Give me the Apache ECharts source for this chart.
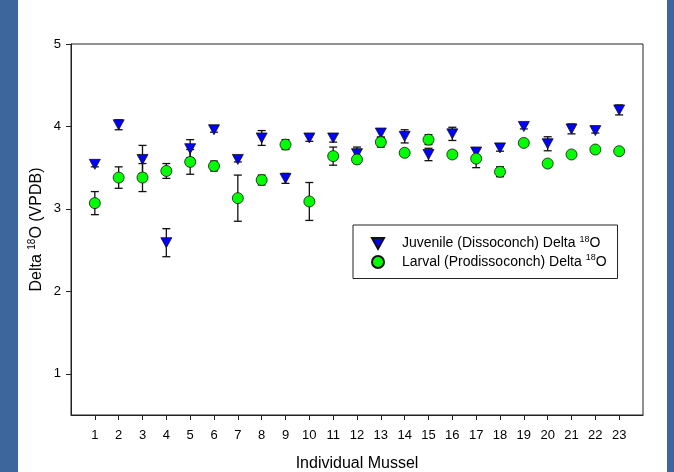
<!DOCTYPE html>
<html>
<head>
<meta charset="utf-8">
<script src="https://cdn.jsdelivr.net/npm/echarts@6/dist/echarts.min.js"></script>
<style>
  html, body { margin: 0; padding: 0; background: #fff; }
  #chart { width: 674px; height: 472px; }
</style>
</head>
<body>
<div id="chart"></div>
<script>
// individual mussels on x
const mussels = [1, 2, 3, 4, 5, 6, 7, 8, 9, 10, 11, 12, 13, 14, 15, 16, 17, 18, 19, 20, 21, 22, 23];
// juvenile (dissoconch) delta 18O, mean and error
const juvenileMean = [3.54, 4.02, 3.60, 2.59, 3.73, 3.96, 3.60, 3.86, 3.37, 3.86, 3.86, 3.67, 3.92, 3.88, 3.66, 3.91, 3.69, 3.74, 4.00, 3.79, 3.97, 3.95, 4.20];
const juvenileErr = [0.03, 0.06, 0.17, 0.17, 0.11, 0.03, 0.03, 0.09, 0.06, 0.04, 0.05, 0.08, 0.05, 0.08, 0.075, 0.08, 0.04, 0.04, 0.03, 0.085, 0.06, 0.03, 0.06];
// larval (prodissoconch) delta 18O, mean and error
const larvalMean = [3.07, 3.38, 3.38, 3.46, 3.57, 3.52, 3.13, 3.35, 3.78, 3.09, 3.64, 3.60, 3.81, 3.68, 3.84, 3.66, 3.61, 3.45, 3.80, 3.55, 3.66, 3.72, 3.70];
const larvalErr = [0.14, 0.13, 0.17, 0.09, 0.15, 0.06, 0.28, 0.06, 0.06, 0.23, 0.11, 0.05, 0.06, 0.04, 0.06, 0.04, 0.11, 0.06, 0.03, 0.03, 0.03, 0.03, 0.03];
// tick labels
const xTicks = mussels;
const yTicks = [1, 2, 3, 4, 5];

const font = "Liberation Sans, Arial, sans-serif";
const triDown = "path://M0,0L10,0L5,9Z";

const chart = echarts.init(document.getElementById("chart"));

function errorData(means, errs) {
  return mussels.map((m, i) => [m, means[i] - errs[i], means[i] + errs[i]]);
}

function renderErrorBar(params, api) {
  const lo = api.coord([api.value(0), api.value(1)]);
  const hi = api.coord([api.value(0), api.value(2)]);
  const cap = 4;
  const style = { stroke: "#111", lineWidth: 1.3 };
  return {
    type: "group",
    children: [
      { type: "line", shape: { x1: lo[0], y1: lo[1], x2: hi[0], y2: hi[1] }, style },
      { type: "line", shape: { x1: lo[0] - cap, y1: lo[1], x2: lo[0] + cap, y2: lo[1] }, style },
      { type: "line", shape: { x1: hi[0] - cap, y1: hi[1], x2: hi[0] + cap, y2: hi[1] }, style },
    ],
  };
}

const option = {
  animation: false,
  backgroundColor: "#fff",
  graphic: [
    { type: "rect", left: 0, top: 0, shape: { width: 18, height: 472 }, style: { fill: "#3d679c" } },
    { type: "rect", left: 667, top: 0, shape: { width: 7, height: 472 }, style: { fill: "#3d679c" } },
  ],
  grid: {
    left: 71,
    right: 31,
    top: 44,
    bottom: 57,
    outerBoundsMode: "none",
    show: true,
    borderColor: "#222",
    borderWidth: 1,
  },
  legend: {
    orient: "vertical",
    left: 353,
    top: 225,
    padding: [10, 11, 8, 18],
    itemGap: 1.5,
    itemWidth: 12,
    itemHeight: 13,
    borderColor: "#222",
    borderWidth: 1,
    borderRadius: 0,
    data: ["juvenile", "larval"],
    formatter: (name) =>
      name === "juvenile"
        ? "Juvenile (Dissoconch) Delta {sup|18}O"
        : "Larval (Prodissoconch) Delta {sup|18}O",
    textStyle: {
      fontFamily: font,
      fontSize: 14,
      lineHeight: 17,
      color: "#000",
      padding: [0, 0, 0, 13],
      rich: { sup: { fontFamily: font, fontSize: 9, lineHeight: 8, verticalAlign: "top", color: "#000" } },
    },
  },
  xAxis: {
    type: "value",
    min: 0,
    max: 24,
    name: "Individual Mussel",
    nameLocation: "middle",
    nameGap: 41,
    nameMoveOverlap: false,
    nameTextStyle: { fontFamily: font, fontSize: 16, color: "#000" },
    axisLine: { lineStyle: { color: "#222" } },
    axisTick: { show: true, length: 5, inside: false, customValues: xTicks, lineStyle: { color: "#222" } },
    axisLabel: { customValues: xTicks, fontFamily: font, fontSize: 13, color: "#000", margin: 14 },
    splitLine: { show: false },
  },
  yAxis: {
    type: "value",
    min: 0.5,
    max: 5,
    name: "Delta {sup|18}O (VPDB)",
    nameLocation: "middle",
    nameGap: 24,
    nameMoveOverlap: false,
    nameTextStyle: {
      fontFamily: font,
      fontSize: 16,
      lineHeight: 20,
      color: "#000",
      rich: { sup: { fontFamily: font, fontSize: 10, lineHeight: 10, verticalAlign: "top", color: "#000" } },
    },
    axisLine: { show: true, lineStyle: { color: "#222" } },
    axisTick: { show: true, length: 5, inside: false, customValues: yTicks, lineStyle: { color: "#222" } },
    axisLabel: { customValues: yTicks, fontFamily: font, fontSize: 13, color: "#000", margin: 10 },
    splitLine: { show: false },
  },
  series: [
    {
      type: "custom",
      name: "juvenileErr",
      renderItem: renderErrorBar,
      encode: { x: 0, y: [1, 2] },
      data: errorData(juvenileMean, juvenileErr),
      z: 1,
    },
    {
      type: "custom",
      name: "larvalErr",
      renderItem: renderErrorBar,
      encode: { x: 0, y: [1, 2] },
      data: errorData(larvalMean, larvalErr),
      z: 1,
    },
    {
      type: "scatter",
      name: "juvenile",
      symbol: triDown,
      symbolSize: [11, 10],
      itemStyle: { color: "#0000ff", borderColor: "#111", borderWidth: 0.8, opacity: 1 },
      data: mussels.map((m, i) => [m, juvenileMean[i]]),
      z: 3,
    },
    {
      type: "scatter",
      name: "larval",
      symbol: "circle",
      symbolSize: 11,
      itemStyle: { color: "#00ff00", borderColor: "#111", borderWidth: 0.8, opacity: 1 },
      data: mussels.map((m, i) => [m, larvalMean[i]]),
      z: 4,
    },
  ],
};

chart.setOption(option);
</script>
</body>
</html>
